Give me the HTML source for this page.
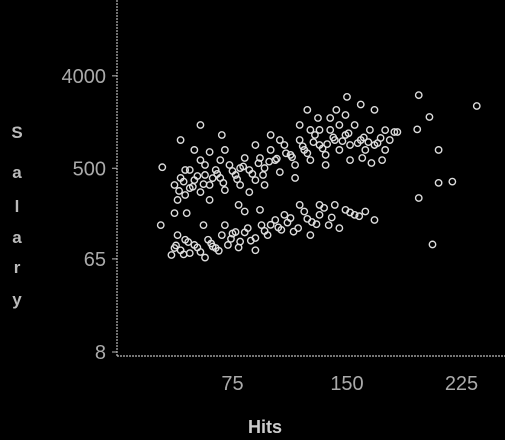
<!DOCTYPE html>
<html><head><meta charset="utf-8"><style>
html,body{margin:0;padding:0;background:#000;}
svg{display:block;}
</style></head><body>
<svg id="chart" width="505" height="440" viewBox="0 0 505 440" xmlns="http://www.w3.org/2000/svg">
<rect width="505" height="440" fill="#000"/>
<line x1="117" y1="0" x2="117" y2="356" stroke="#bbb" stroke-width="1.2" stroke-dasharray="2 1"/>
<line x1="117" y1="356" x2="505" y2="356" stroke="#bbb" stroke-width="1.2" stroke-dasharray="2 1"/>
<g id="ticks"></g>
<g id="points"></g>
<text x="265" y="433" fill="#ccc" font-family="Liberation Sans, sans-serif" font-size="18" font-weight="bold" text-anchor="middle">Hits</text>
<g font-family="Liberation Sans, sans-serif" font-size="17" font-weight="bold" fill="#bbb" text-anchor="middle">
<text x="17" y="138">S</text><text x="17" y="178">a</text><text x="17" y="212">l</text><text x="17" y="243">a</text><text x="17" y="273">r</text><text x="17" y="305">y</text>
</g>
</svg>
<script>
const xTicks = [75, 150, 225];
const yTicks = [8, 65, 500, 4000];
const hits = [37,41,44,47,39,50,54,57,60,64,67,70,73,77,80,83,86,90,93,96,100,103,106,109,113,116,119,122,126,129,132,136,139,142,145,149,152,155,159,162,165,168,172,175,178,181,47,54,60,70,80,90,96,106,116,126,136,145,152,160,166,173,79,86,67,57,44,119,132,100,149,139,131,
235,197,204,196,210,210,219,197,206,183,175,150,168,159,143,124,54,68,41,29,50,60,28,37,45,56,
35,41,47,50,54,59,64,68,72,77,80,85,90,94,98,103,107,113,118,122,127,132,138,142,149,155,162,168,44,70,90,109,126,93,83,119,132,145,39,57,
40,43,49,52,56,62,65,69,75,78,82,88,92,95,99,104,110,114,121,124,128,134,137,141,147,151,157,161,164,170,
38,43,46,52,61,66,74,79,83,87,96,100,105,111,115,124,130,135,140,152,158,37,62,75];
const salary = [343,402,274,320,245,383,292,430,343,481,402,306,538,430,343,630,481,383,630,502,755,600,458,843,675,538,943,755,600,1057,843,675,1184,943,755,1057,843,1324,943,755,1184,843,989,755,943,1130,481,600,245,755,502,843,343,943,402,1184,538,1324,600,630,563,600,219,292,600,538,481,1324,1184,1057,1658,1549,1549,
2030,2590,1585,1200,755,360,370,256,90,1130,1180,2490,1860,2100,1860,1860,1324,1057,943,512,755,720,139,182,182,139,
71,79,74,89,76,100,83,111,89,119,96,130,104,139,111,156,125,163,130,189,149,175,139,219,196,175,189,156,100,139,79,175,111,196,189,219,219,130,111,67,
300,370,330,420,350,400,440,360,470,390,520,440,560,430,580,620,700,640,820,700,900,780,860,1000,920,1100,880,1000,900,880,
88,72,95,84,92,78,102,84,118,98,122,140,132,147,120,160,142,205,165,185,170,83,86,115];

const NS='http://www.w3.org/2000/svg';
function xScale(v){ return 118 + v * 114.5 / 75; }
function yScale(v){ return 352 - (Math.log2(v) - 3) * 30.8; }

const tg = document.getElementById('ticks');
xTicks.forEach(t => {
  const tx = document.createElementNS(NS,'text');
  tx.setAttribute('x', xScale(t)); tx.setAttribute('y', 390);
  tx.setAttribute('fill','#aaa'); tx.setAttribute('font-size','20');
  tx.setAttribute('font-family','Liberation Sans, sans-serif');
  tx.setAttribute('text-anchor','middle');
  tx.textContent = t;
  
  
  tg.appendChild(tx);
});
yTicks.forEach(t => {
  const tx = document.createElementNS(NS,'text');
  tx.setAttribute('x', 106); tx.setAttribute('y', yScale(t) + 7);
  tx.setAttribute('fill','#aaa'); tx.setAttribute('font-size','20');
  tx.setAttribute('font-family','Liberation Sans, sans-serif');
  tx.setAttribute('text-anchor','end');
  tx.textContent = t;
  
  
  tg.appendChild(tx);
  const ln = document.createElementNS(NS,'line');
  ln.setAttribute('x1',112); ln.setAttribute('x2',117);
  ln.setAttribute('y1',yScale(t)); ln.setAttribute('y2',yScale(t));
  ln.setAttribute('stroke','#bbb');
  
  
  tg.appendChild(ln);
});

const pg = document.getElementById('points');
for (let i = 0; i < hits.length; i++) {
  const c = document.createElementNS(NS,'circle');
  c.setAttribute('cx', xScale(hits[i]));
  c.setAttribute('cy', yScale(salary[i]));
  c.setAttribute('r', 3.2);
  c.setAttribute('fill','none');
  c.setAttribute('stroke','#ddd');
  c.setAttribute('stroke-width','1.4');
  
  
  pg.appendChild(c);
}
</script>
</body></html>
